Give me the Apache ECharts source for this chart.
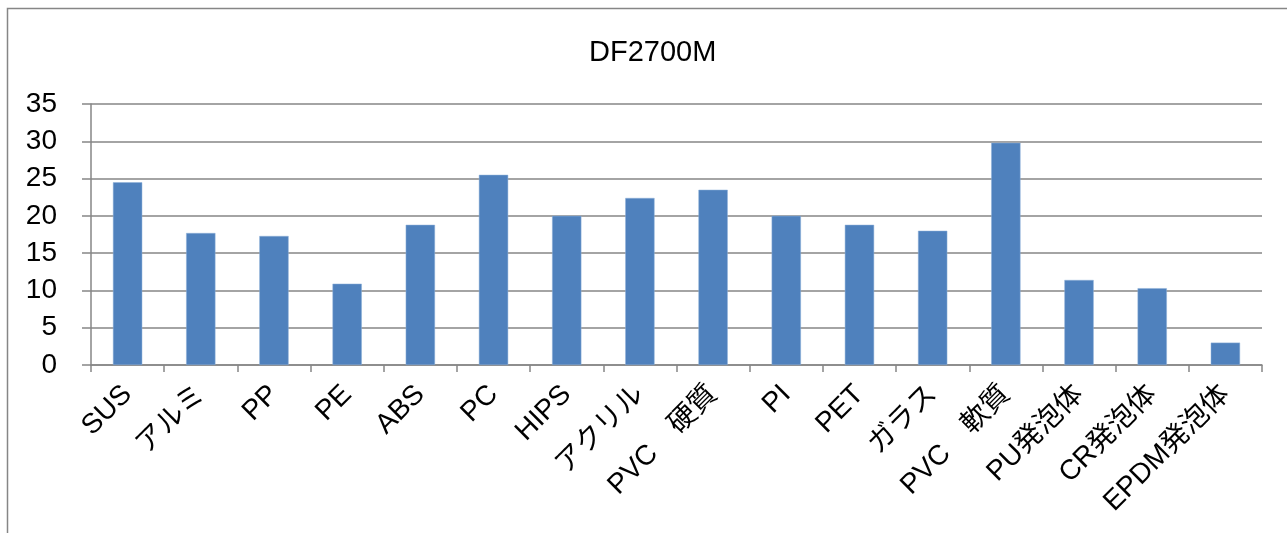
<!DOCTYPE html>
<html>
<head>
<meta charset="utf-8">
<script src="https://cdn.jsdelivr.net/npm/echarts@6/dist/echarts.min.js"></script>
<style>
  html, body { margin: 0; padding: 0; background: #fff; }
  #chart { width: 1287px; height: 533px; }
</style>
</head>
<body>
<div id="chart"></div>
<script>
  // 素材ごとの値
  const categories = ['SUS', 'アルミ', 'PP', 'PE', 'ABS', 'PC', 'HIPS', 'アクリル', 'PVC　硬質',
    'PI', 'PET', 'ガラス', 'PVC　軟質', 'PU発泡体', 'CR発泡体', 'EPDM発泡体'];
  const values = [24.5, 17.7, 17.3, 10.9, 18.8, 25.5, 20.0, 22.4, 23.5,
    20.0, 18.8, 18.0, 29.8, 11.4, 10.3, 3.0];
  const titleText = 'DF2700M';

  const font = '"Liberation Sans", "Noto Sans CJK JP", sans-serif';
  const lineColor = '#868686';

  let myChart = echarts.init(document.getElementById('chart'));
  myChart.setOption({
    animation: false,
    textStyle: { fontFamily: font },
    title: {
      text: titleText,
      left: 584,
      top: 33,
      textStyle: { color: '#000', fontSize: 29, fontWeight: 'normal', fontFamily: font }
    },
    graphic: [{
      type: 'rect',
      shape: { x: 7.5, y: 8.5, width: 1400, height: 700 },
      style: { fill: 'none', stroke: lineColor, lineWidth: 1.5 },
      silent: true
    }],
    grid: { left: 91, right: 25, top: 104, bottom: 168 },
    xAxis: {
      type: 'category',
      data: categories,
      axisLine: { lineStyle: { color: lineColor, width: 1.5 } },
      axisTick: { show: true, length: 7, lineStyle: { color: lineColor, width: 1.5 } },
      axisLabel: {
        rotate: 45,
        interval: 0,
        margin: 25,
        color: '#000',
        fontSize: 28,
        fontFamily: font
      }
    },
    yAxis: {
      type: 'value',
      min: 0,
      max: 35,
      interval: 5,
      axisLine: { show: true, lineStyle: { color: lineColor, width: 1.5 } },
      axisTick: { show: true, length: 9, lineStyle: { color: lineColor, width: 1.5 } },
      splitLine: { show: true, lineStyle: { color: lineColor, width: 1.5 } },
      axisLabel: {
        margin: 34,
        color: '#000',
        fontSize: 28,
        fontFamily: font
      }
    },
    series: [{
      type: 'bar',
      data: values,
      barWidth: '40%',
      itemStyle: { color: '#4F81BD', borderColor: '#8FB0D8', borderWidth: 0.5 }
    }]
  });
</script>
</body>
</html>
